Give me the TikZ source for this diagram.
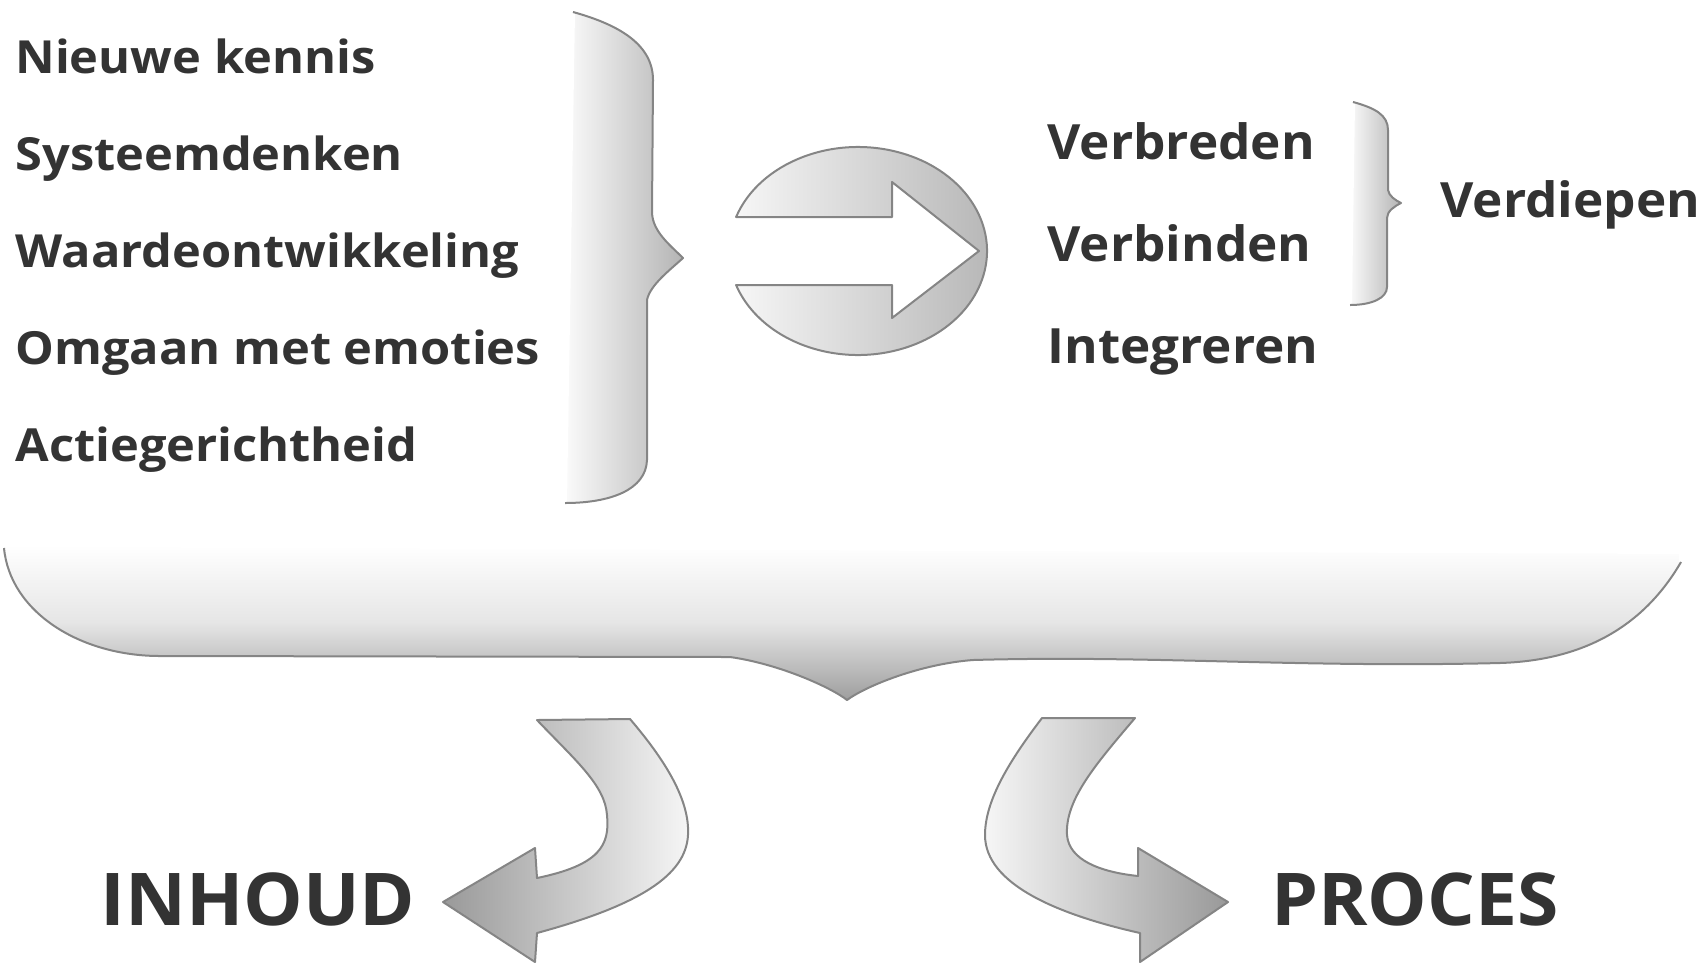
\documentclass[tikz,border=0pt]{standalone}
\usepackage{fontspec}
\setmainfont{Open Sans}
\newfontfamily\leftfont{Open Sans}[FakeStretch=1.07]
\newfontfamily\rightfont{Open Sans}[FakeStretch=1.055]
\newfontfamily\bigfont{Open Sans}[FakeStretch=1.03]
\definecolor{txt}{HTML}{333333}
\definecolor{edge}{HTML}{858585}
\definecolor{shadeD}{HTML}{B4B4B4}
\definecolor{shadeL}{HTML}{F6F6F6}
\tikzset{
  lbl/.style={font=\leftfont\bfseries\fontsize{22.8pt}{26pt}\selectfont, text=txt, inner sep=0pt, anchor=base west},
  rlbl/.style={font=\rightfont\bfseries\fontsize{24.3pt}{28pt}\selectfont, text=txt, inner sep=0pt, anchor=base west},
  big/.style={font=\bigfont\bfseries\fontsize{36.4pt}{42pt}\selectfont, text=txt, inner sep=0pt, anchor=base west},
  outline/.style={draw=edge, line width=1pt, line join=round},
  seam/.style={draw=white, line width=2pt},
}
\begin{document}
\begin{tikzpicture}[x=0.5pt,y=-0.5pt]
\useasboundingbox (0,0) rectangle (1707,965);

% left texts
\node[lbl] (t1) at (15,73) {Nieuwe kennis};
\node[lbl] (t2) at (15,170) {Systeemdenken};
\node[lbl] (t3) at (15,267) {Waardeontwikkeling};
\node[lbl] (t4) at (15,364) {Omgaan met emoties};
\node[lbl] (t5) at (15,461) {Actiegerichtheid};

% right texts
\node[rlbl] (r1) at (1047,159) {Verbreden};
\node[rlbl] (r2) at (1047,261) {Verbinden};
\node[rlbl] (r3) at (1047,363) {Integreren};
\node[rlbl] (r4) at (1440,217) {Verdiepen};

% bottom texts
\node[big] (inh) at (100,925) {INHOUD};
\node[big] (pro) at (1271,925) {PROCES};

% left brace
\fill[left color=shadeL!50!white, right color=shadeD] (573,12) .. controls (620,25) and (653,45) .. (653,80)
  -- (652,213) .. controls (653,232) and (670,245) .. (683,258)
  .. controls (670,270) and (650,285) .. (647,300)
  -- (647,460) .. controls (646,490) and (610,503) .. (565,503) -- cycle;
\path[seam] (565,503) -- (573,12);
\draw[outline] (573,12) .. controls (620,25) and (653,45) .. (653,80)
  -- (652,213) .. controls (653,232) and (670,245) .. (683,258)
  .. controls (670,270) and (650,285) .. (647,300)
  -- (647,460) .. controls (646,490) and (610,503) .. (565,503);

% small right brace
\fill[left color=shadeL!50!white, right color=shadeD] (1353,102) .. controls (1375,108) and (1388,115) .. (1388,130)
  -- (1388,190) .. controls (1389,196) and (1395,200) .. (1401,203)
  .. controls (1395,206) and (1387,211) .. (1387,218)
  -- (1387,287) .. controls (1387,298) and (1372,305) .. (1350,305) -- cycle;
\path[seam] (1350,305) -- (1353,102);
\draw[outline] (1353,102) .. controls (1375,108) and (1388,115) .. (1388,130)
  -- (1388,190) .. controls (1389,196) and (1395,200) .. (1401,203)
  .. controls (1395,206) and (1387,211) .. (1387,218)
  -- (1387,287) .. controls (1387,298) and (1372,305) .. (1350,305);

% circle with arrow cut-out
\path[outline, left color=shadeL, right color=shadeD]
  (892,217) -- (736.1,217)
  arc[start angle=160.92, end angle=-160.92, x radius=64.5pt, y radius=52pt]
  -- (892,285) -- (892,318) -- (979,251) -- (892,182) -- cycle;

% big bottom brace
\fill[top color=white, bottom color=black!38, middle color=black!10]
  (4,548) .. controls (10,612) and (80,656) .. (160,656)
  -- (730,657) .. controls (780,664) and (832,688) .. (847,700)
  .. controls (866,686) and (920,664) .. (973,660)
  .. controls (1150,655) and (1300,668) .. (1500,663)
  .. controls (1600,660) and (1652,612) .. (1681,562) -- (1681,552) -- (4,545) -- cycle;
\path[seam] (1681,562) -- (1681,552) -- (4,545);
\draw[outline]
  (4,548) .. controls (10,612) and (80,656) .. (160,656)
  -- (730,657) .. controls (780,664) and (832,688) .. (847,700)
  .. controls (866,686) and (920,664) .. (973,660)
  .. controls (1150,655) and (1300,668) .. (1500,663)
  .. controls (1600,660) and (1652,612) .. (1681,562);

% left curved arrow (to INHOUD)
\path[outline, left color=black!40, right color=shadeL]
  (537,720) -- (630,719) .. controls (665,760) and (690,800) .. (688,835)
  .. controls (686,875) and (640,905) .. (537,933)
  -- (535,962) -- (443,902) -- (535,848) -- (537,878)
  .. controls (600,865) and (610,845) .. (607,815)
  .. controls (605,785) and (575,760) .. (537,720) -- cycle;

% right curved arrow (to PROCES)
\path[outline, left color=shadeL, right color=black!40]
  (1042,718) -- (1135,718) .. controls (1095,765) and (1065,800) .. (1067,835)
  .. controls (1069,860) and (1100,872) .. (1138,876)
  -- (1138,848) -- (1228,902) -- (1140,962) -- (1140,933)
  .. controls (1060,915) and (985,885) .. (985,835)
  .. controls (985,800) and (1010,760) .. (1042,718) -- cycle;
\end{tikzpicture}
\end{document}
